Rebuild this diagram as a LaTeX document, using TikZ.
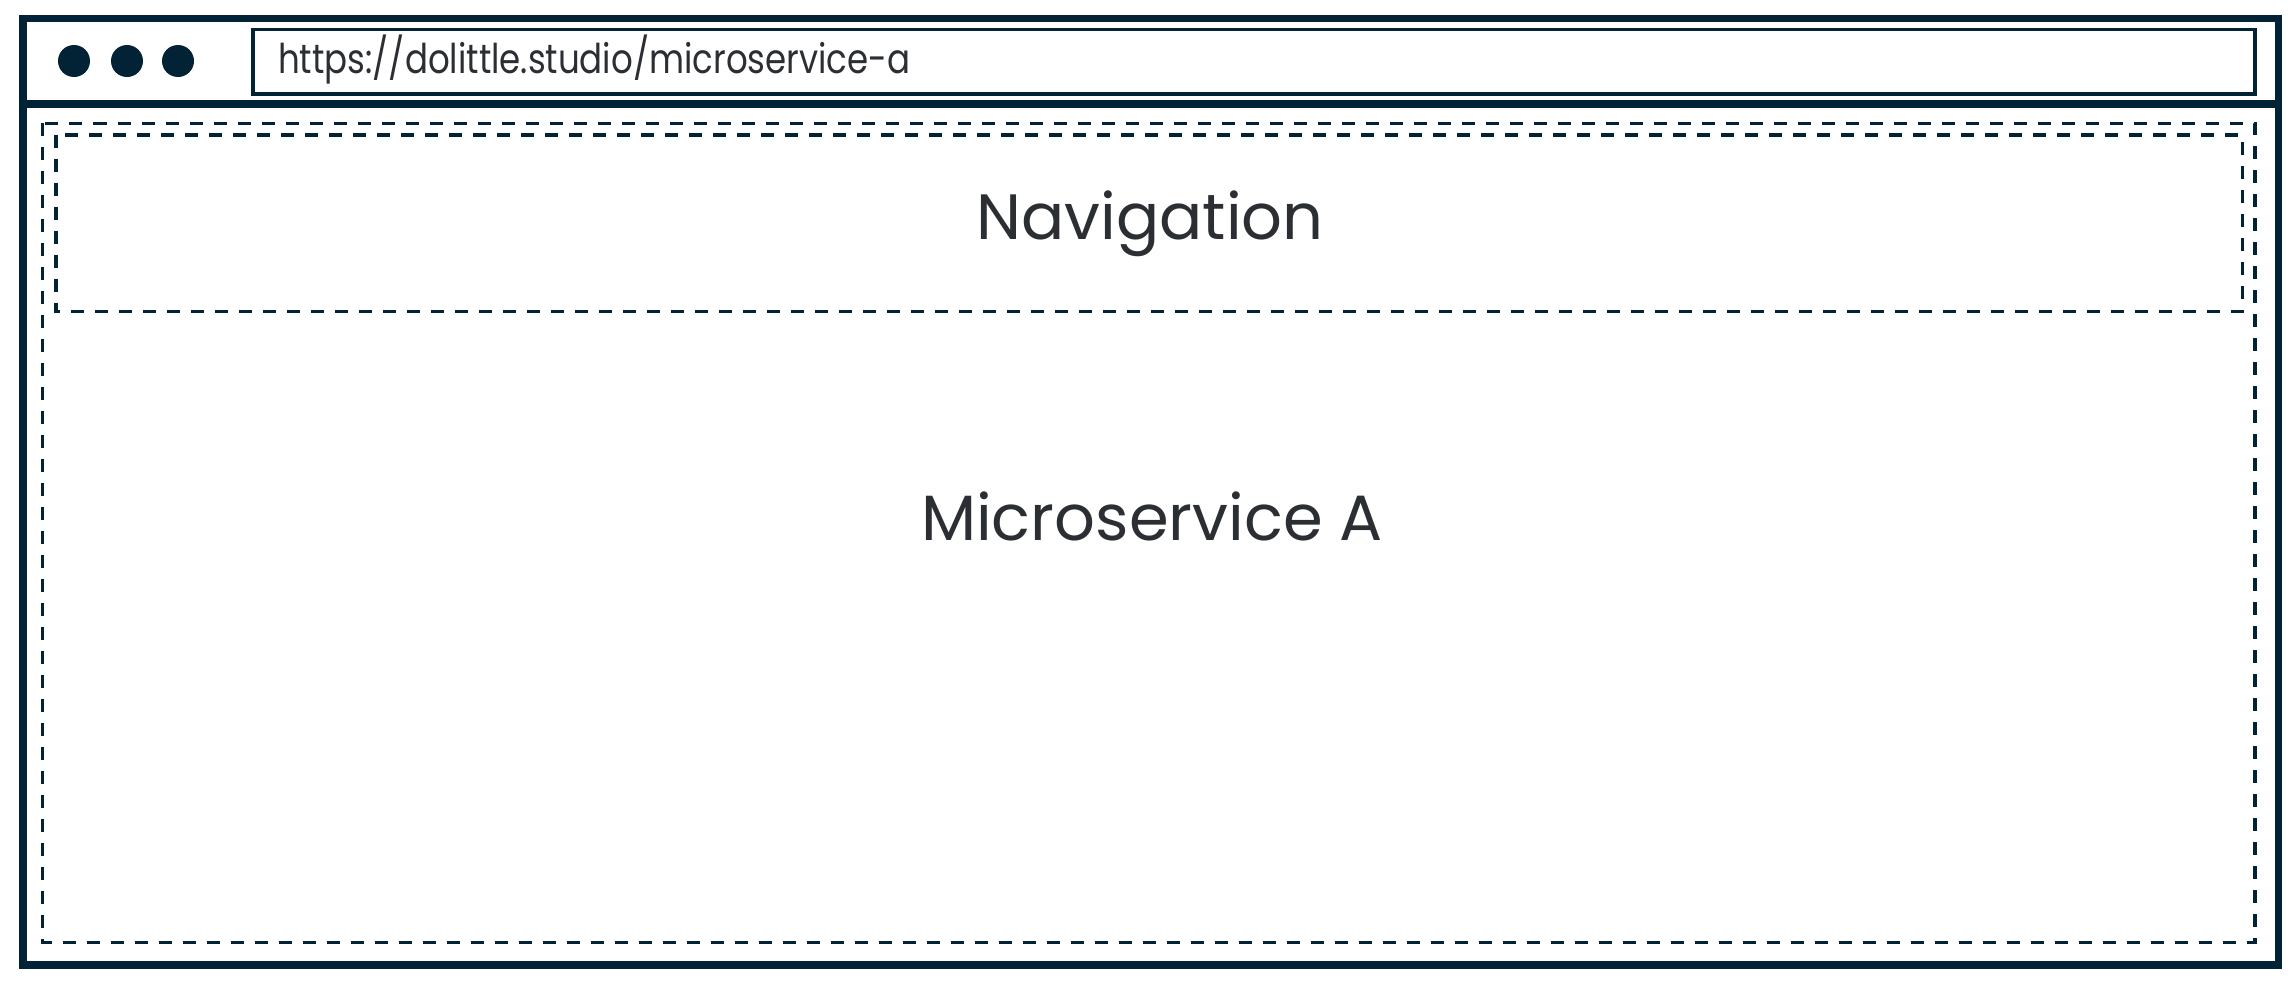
\documentclass[tikz,border=0pt]{standalone}
\usepackage{fontspec}
\setmainfont{Poppins}
\definecolor{navy}{HTML}{022235}
\definecolor{txt}{HTML}{2B2E33}
\begin{document}
\begin{tikzpicture}[x=1pt,y=-1pt,
  frame/.style={draw=navy,line width=7.2pt},
  urlbox/.style={draw=navy,line width=3.8pt},
  dashbox/.style={draw=navy,line width=3.4pt,dash pattern=on 13pt off 11pt},
  dot/.style={fill=navy},
  bigtext/.style={text=txt,font=\fontsize{64}{70}\selectfont,anchor=base,inner sep=0pt},
  urltext/.style={text=txt,font=\fontsize{41}{46}\selectfont,anchor=base west,inner sep=0pt,xscale=0.83}]
\useasboundingbox (0,0) rectangle (2296,980);
% outer browser frame
\draw[frame] (23,18.5) rectangle (2278.5,965);
\draw[frame] (23,104) -- (2278.5,104);
% window dots
\fill[dot] (74,61) circle (16);
\fill[dot] (127,61) circle (16);
\fill[dot] (178,61) circle (16);
% url bar
\draw[urlbox] (253,29.5) rectangle (2255,94);
\node[urltext] (url) at (278,73.3) {https://dolittle.studio/microservice-a};
% dashed regions
\draw[dashbox] (42.3,123.3) rectangle (2255,942.7);
\draw[dashbox] (56,135) rectangle (2242.3,311.7);
\node[bigtext] (nav) at (1150,239.3) {Navigation};
\node[bigtext] (ms) at (1152,540) {Microservice A};
\end{tikzpicture}
\end{document}
